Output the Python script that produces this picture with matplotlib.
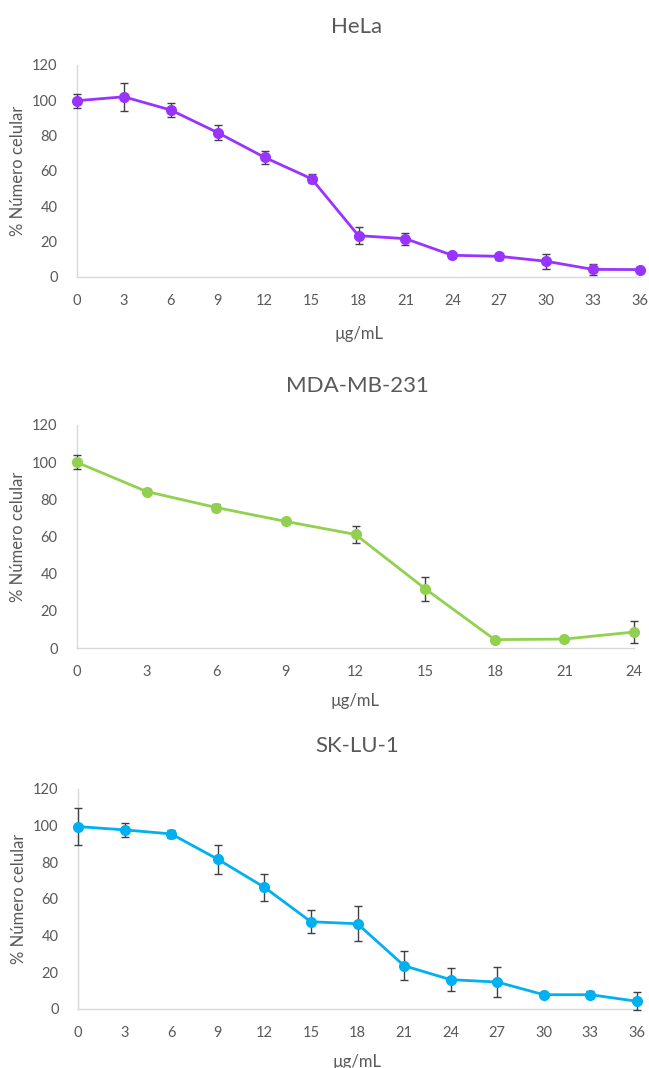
import numpy as np
import matplotlib.pyplot as plt

plt.rcParams['font.family'] = ['Lato', 'DejaVu Sans']

# --- Data ---
hela_x = [0, 3, 6, 9, 12, 15, 18, 21, 24, 27, 30, 33, 36]
hela_y = [99.8, 102, 94.5, 81.7, 67.7, 55.6, 23.4, 21.7, 12.3, 11.7, 8.9, 4.3, 4.2]
hela_err = [4, 8, 4, 4.3, 3.8, 2.5, 4.8, 3.4, 1.5, 2, 4.3, 3.3, 1]

mda_x = [0, 3, 6, 9, 12, 15, 18, 21, 24]
mda_y = [99.9, 84.2, 75.6, 68.1, 61.1, 31.9, 4.5, 4.8, 8.6]
mda_err = [3.8, 1.5, 2, 1.5, 4.5, 6.5, 1, 1, 6]

sk_x = [0, 3, 6, 9, 12, 15, 18, 21, 24, 27, 30, 33, 36]
sk_y = [99.5, 97.7, 95.5, 81.7, 66.4, 47.6, 46.5, 23.6, 16, 14.7, 7.8, 7.8, 4.2]
sk_err = [10, 3.7, 2, 8, 7.5, 6.3, 9.5, 8, 6.4, 8, 1.5, 2, 5]

panels = [
    ("HeLa", hela_x, hela_y, hela_err, "#9933FF", 36),
    ("MDA-MB-231", mda_x, mda_y, mda_err, "#92D050", 24),
    ("SK-LU-1", sk_x, sk_y, sk_err, "#00B0F0", 36),
]

W, H = 649, 1068
# axes boxes in pixels: left, top(120), right, bottom(0)
boxes = [(77, 65, 640, 277), (77, 425, 634, 648), (78, 789, 637, 1009)]
title_y = [27, 386, 746]
xlabel_pad = [13, 10, 10]

text_col = "#595959"
fig = plt.figure(figsize=(W / 100, H / 100), dpi=100)

for (name, x, y, err, col, xmax), (l, t, r, b), ty, xp in zip(panels, boxes, title_y, xlabel_pad):
    ax = fig.add_axes([l / W, 1 - b / H, (r - l) / W, (b - t) / H])
    ax.errorbar(x, y, yerr=err, color=col, lw=2, marker='o', ms=7,
                ecolor="#404040", elinewidth=1, capsize=3, capthick=1,
                clip_on=False, zorder=3)
    ax.set_xlim(0, xmax)
    ax.set_ylim(0, 120)
    ax.set_xticks(x)
    ax.set_yticks(np.arange(0, 121, 20))
    ax.tick_params(length=0, colors=text_col, labelsize=10.5)
    ax.tick_params(axis='x', pad=12)
    ax.tick_params(axis='y', pad=14)
    for s in ['top', 'right']:
        ax.spines[s].set_visible(False)
    for s in ['left', 'bottom']:
        ax.spines[s].set_color("#D9D9D9")
        ax.spines[s].set_linewidth(1)
    ax.set_xlabel("µg/mL", color=text_col, fontsize=12, labelpad=xp)
    ax.set_ylabel("% Número celular", color=text_col, fontsize=12, labelpad=4)
    fig.text(0.55, 1 - ty / H, name, ha='center', va='center',
             fontsize=16, color=text_col)

fig.savefig("out.png", dpi=100, facecolor='white')
